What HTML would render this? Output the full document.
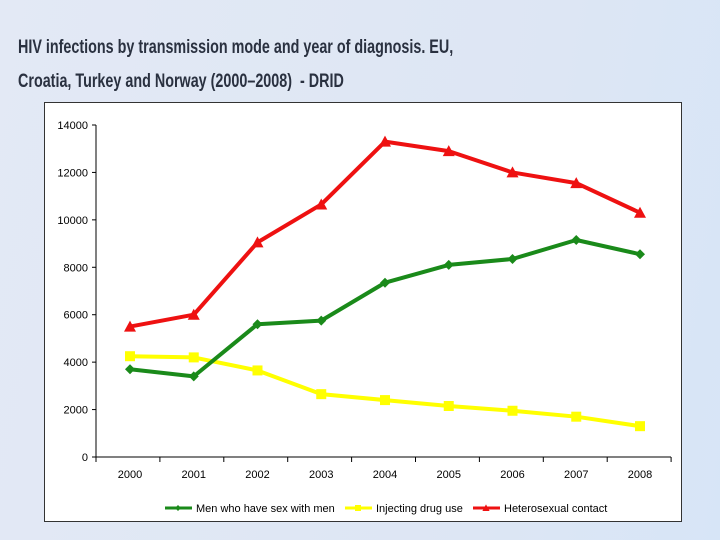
<!DOCTYPE html>
<html><head><meta charset="utf-8"><style>
body{margin:0;width:720px;height:540px;overflow:hidden;background:linear-gradient(100deg,#e3e9f5 0%,#dde6f4 70%,#d7e5f7 100%);font-family:"Liberation Sans",sans-serif;position:relative}
.t{position:absolute;left:18px;font-size:19px;font-weight:bold;color:#2a3140;white-space:nowrap;transform-origin:0 0;transform:scaleX(0.755)}
</style></head><body>
<div class="t" style="top:37px">HIV infections by transmission mode and year of diagnosis. EU,</div>
<div class="t" style="top:71px">Croatia, Turkey and Norway (2000–2008)&nbsp; - DRID</div>
<svg id="c" width="720" height="540" style="position:absolute;left:0;top:0" font-family="Liberation Sans, sans-serif">
<rect x="44.5" y="102.5" width="637" height="419" fill="#fff" stroke="#333"/>
</svg>
<script>
const years=["2000","2001","2002","2003","2004","2005","2006","2007","2008"];
const msm=[3700,3400,5600,5750,7350,8100,8350,9150,8550];
const idu=[4250,4200,3650,2650,2400,2150,1950,1700,1300];
const het=[5500,6000,9050,10650,13300,12900,12000,11550,10300];
const yTicks=[0,2000,4000,6000,8000,10000,12000,14000];
const svg=document.getElementById('c');const NS='http://www.w3.org/2000/svg';
const X=i=>130+i*63.75, Y=v=>457-v*(332/14000);
function el(t,a,p){const e=document.createElementNS(NS,t);for(const k in a)e.setAttribute(k,a[k]);(p||svg).appendChild(e);return e;}
let e=el('line',{x1:96,y1:Y(14000),x2:96,y2:457,stroke:'#000'});

e=el('line',{x1:96,y1:457,x2:671,y2:457,stroke:'#000'});

yTicks.forEach(v=>{el('line',{x1:92,y1:Y(v),x2:96,y2:Y(v),stroke:'#000'});
const t=el('text',{x:88,y:Y(v)+4,'text-anchor':'end','font-size':11});t.textContent=v;
});
for(let i=0;i<=9;i++)el('line',{x1:96+i*63.9,y1:457,x2:96+i*63.9,y2:462,stroke:'#000'});
years.forEach((y,i)=>{const t=el('text',{x:X(i),y:478,'text-anchor':'middle','font-size':11});t.textContent=y;
});
function marker(x,y,c,s,g){
 if(s==='d')return el('polygon',{points:`${x},${y-5} ${x+5},${y} ${x},${y+5} ${x-5},${y}`,fill:c},g);
 if(s==='s')return el('rect',{x:x-5,y:y-5,width:10,height:10,fill:c},g);
 return el('polygon',{points:`${x},${y-6} ${x+6},${y+5} ${x-6},${y+5}`,fill:c},g);}
function series(d,c,s,n){const g=el('g',{});

el('polyline',{points:d.map((v,i)=>X(i)+','+Y(v)).join(' '),fill:'none',stroke:c,'stroke-width':4,'stroke-linejoin':'round'},g);
d.forEach((v,i)=>{const m=marker(X(i),Y(v),c,s,g);});}
series(idu,'#ffff00','s','series-injecting-drug-use');
series(msm,'#1a8a1a','d','series-msm');
series(het,'#ee1111','t','series-heterosexual');
const leg=[['Men who have sex with men','#1a8a1a','d',165],['Injecting drug use','#ffff00','s',345],['Heterosexual contact','#ee1111','t',473]];
leg.forEach(([l,c,s,x])=>{const g=el('g',{});
el('line',{x1:x,y1:508,x2:x+27,y2:508,stroke:c,'stroke-width':3},g);marker(x+13,508,c,s,g).setAttribute('transform',`translate(${x+13},508) scale(0.6) translate(${-(x+13)},-508)`);
const t=el('text',{x:x+31,y:512,'font-size':11},g);t.textContent=l;});
</script>
</body></html>
